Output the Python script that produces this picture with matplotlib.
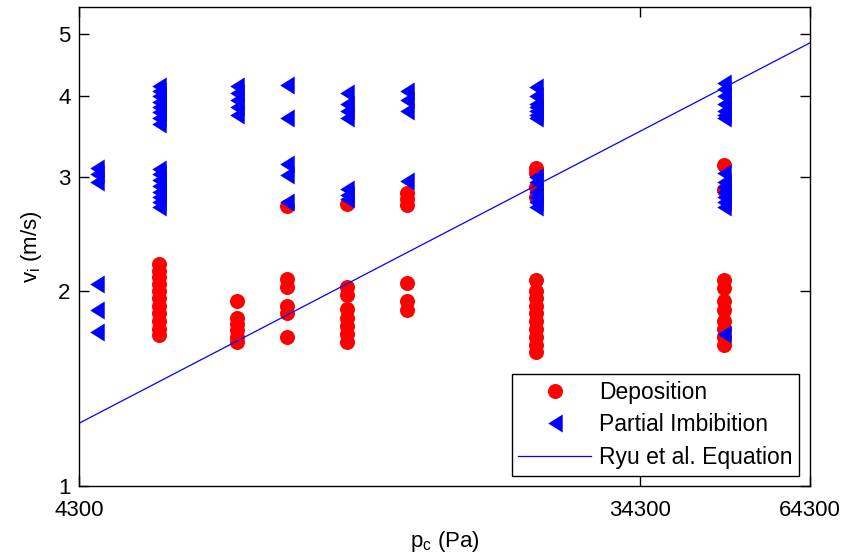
import numpy as np
import matplotlib
matplotlib.use("Agg")
import matplotlib.pyplot as plt
from matplotlib.path import Path
from matplotlib.ticker import FixedLocator, NullLocator, FixedFormatter

plt.rcParams["font.family"] = ["Liberation Sans Narrow", "Liberation Sans", "DejaVu Sans"]
plt.rcParams["mathtext.default"] = "regular"

# %% data
pc_columns = [4600, 5780, 7730, 9280, 11600, 14500, 23300, 46700]

dep_v = [
    [],
    [2.20, 2.15, 2.10, 2.05, 2.00, 1.95, 1.90, 1.85, 1.80, 1.75, 1.71],
    [1.93, 1.82, 1.78, 1.74, 1.70, 1.67],
    [2.09, 2.03, 1.90, 1.85, 1.70, 2.71],
    [2.03, 1.97, 1.88, 1.82, 1.77, 1.72, 1.67, 2.73],
    [2.06, 1.93, 1.87, 2.84, 2.78, 2.72],
    [2.08, 2.00, 1.95, 1.90, 1.85, 1.80, 1.75, 1.70, 1.65, 1.61, 3.10, 3.05, 2.90, 2.80],
    [2.08, 2.02, 1.93, 1.87, 1.80, 1.75, 1.70, 1.65, 3.13, 2.87],
]

imb_v = [
    [3.10, 3.03, 2.95, 2.05, 1.87, 1.73],
    [4.15, 4.08, 4.00, 3.92, 3.85, 3.78, 3.70, 3.62, 3.09, 3.03, 2.97, 2.91, 2.85, 2.80, 2.75, 2.70],
    [4.15, 4.05, 3.95, 3.85, 3.75],
    [4.16, 3.71, 3.15, 3.02, 2.75],
    [4.05, 3.90, 3.80, 3.70, 2.88, 2.82, 2.78],
    [4.08, 3.95, 3.80, 2.96],
    [4.14, 4.00, 3.90, 3.85, 3.80, 3.75, 3.70, 3.00, 2.95, 2.85, 2.80, 2.75, 2.70],
    [4.20, 4.10, 4.00, 3.90, 3.80, 3.75, 3.70, 3.05, 2.95, 2.90, 2.85, 2.80, 2.75, 2.70, 1.72],
]

ryu_pc = [4300, 64300]
ryu_v = [1.25, 4.84]

x_ticks = [4300, 34300, 64300]
y_ticks = [1, 2, 3, 4, 5]

# %%
dep_x = np.concatenate([[pc] * len(v) for pc, v in zip(pc_columns, dep_v)])
dep_y = np.concatenate([v for v in dep_v if v])
imb_x = np.concatenate([[pc] * len(v) for pc, v in zip(pc_columns, imb_v)])
imb_y = np.concatenate(imb_v)

# narrower left-pointing triangle, like the MATLAB one
tri_left = Path([(-0.8, 0), (0.8, 1), (0.8, -1), (-0.8, 0)],
                [Path.MOVETO, Path.LINETO, Path.LINETO, Path.CLOSEPOLY])

fig = plt.figure(figsize=(8.42, 5.59), dpi=100)
ax = fig.add_axes([0.0938, 0.1306, 0.8682, 0.857])

ax.plot(dep_x, dep_y, "o", color="red", markersize=10.8, markeredgewidth=0, label="Deposition")
ax.plot(imb_x, imb_y, marker=tri_left, linestyle="none", color="blue", markersize=13,
        markeredgewidth=0, label="Partial Imbibition")
ax.plot(ryu_pc, ryu_v, "-", color="blue", linewidth=0.9, label="Ryu et al. Equation")

ax.set_xscale("log")
ax.set_yscale("log")
ax.set_xlim(4300, 64300)
ax.set_ylim(1, 5.5)

ax.xaxis.set_major_locator(FixedLocator(x_ticks))
ax.xaxis.set_major_formatter(FixedFormatter([str(t) for t in x_ticks]))
ax.xaxis.set_minor_locator(NullLocator())
ax.yaxis.set_major_locator(FixedLocator(y_ticks))
ax.yaxis.set_major_formatter(FixedFormatter([str(t) for t in y_ticks]))
ax.yaxis.set_minor_locator(NullLocator())

ax.tick_params(which="both", direction="in", length=7, width=1, top=True, right=True,
               labelsize=16, pad=6)
ax.tick_params(axis="x", pad=10)
for s in ax.spines.values():
    s.set_linewidth(1)

ax.set_xlabel("p$_c$ (Pa)", fontsize=16, labelpad=6)
ax.set_ylabel("v$_i$ (m/s)", fontsize=16, labelpad=10)

leg = ax.legend(loc="lower right", bbox_to_anchor=(0.985, 0.021), borderaxespad=0,
                fontsize=16.5, fancybox=False, framealpha=1, edgecolor="black",
                handlelength=3.15, labelspacing=0.42, handletextpad=0.35,
                borderpad=0.3)
leg.get_frame().set_linewidth(1)

fig.savefig("out.png", dpi=100)
